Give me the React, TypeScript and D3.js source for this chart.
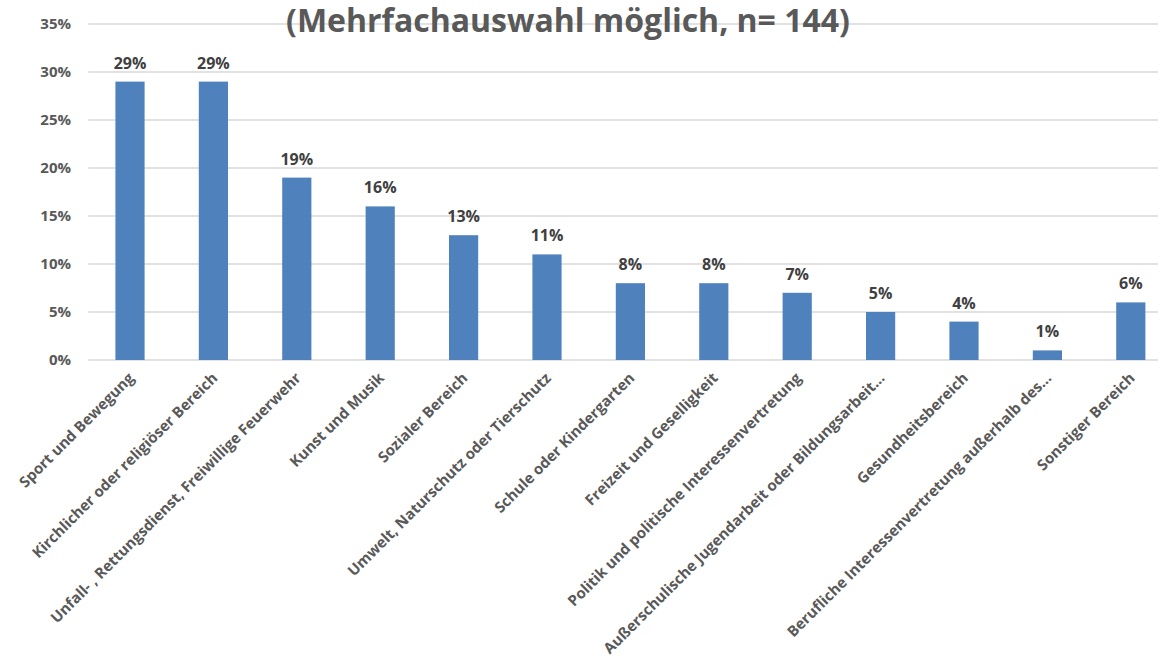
import React from "react";
import * as d3 from "d3";

const categories = [
  "Sport und Bewegung",
  "Kirchlicher oder religiöser Bereich",
  "Unfall- , Rettungsdienst, Freiwillige Feuerwehr",
  "Kunst und Musik",
  "Sozialer Bereich",
  "Umwelt, Naturschutz oder Tierschutz",
  "Schule oder Kindergarten",
  "Freizeit und Geselligkeit",
  "Politik und politische Interessenvertretung",
  "Außerschulische Jugendarbeit oder Bildungsarbeit…",
  "Gesundheitsbereich",
  "Berufliche Interessenvertretung außerhalb des…",
  "Sonstiger Bereich",
];
const values = [29, 29, 19, 16, 13, 11, 8, 8, 7, 5, 4, 1, 6];
const yTicks = [0, 5, 10, 15, 20, 25, 30, 35];
const title = "(Mehrfachauswahl möglich, n= 144)";

const W = 1158;
const H = 668;
const left = 88.3;
const bandRight = 1172.5;
const y0 = 360;
const y35 = 24;

export default function App() {
  const x = d3.scaleBand<string>().domain(categories).range([left, bandRight]).paddingInner(0.65).paddingOuter(0.325);
  const y = d3.scaleLinear().domain([0, 35]).range([y0, y35]);
  const font = "'Open Sans', 'Liberation Sans', sans-serif";
  return (
    <svg width={W} height={H} style={{ position: "absolute", left: 0, top: 0, background: "#fff" }} fontFamily={font}>
      <rect width={W} height={H} fill="#fff" />
      {yTicks.map((t) => (
        <g key={t}>
          <line x1={left} x2={W} y1={y(t)} y2={y(t)} stroke="#d9d9d9" strokeWidth={1.3} />
          <text x={71} y={y(t)} dy="0.35em" textAnchor="end" fontSize={15} fontWeight={700} fill="#595959">
            {t}%
          </text>
        </g>
      ))}
      <text x={568} y={32} textAnchor="middle" fontSize={32} fontWeight={700} fill="#595959">
        {title}
      </text>
      {categories.map((c, i) => {
        const bx = x(c)!;
        const bw = x.bandwidth();
        const cx = bx + bw / 2;
        return (
          <g key={c}>
            <rect x={bx} y={y(values[i])} width={bw} height={y0 - y(values[i])} fill="#4f81bd" />
            <text x={cx} y={y(values[i]) - 13} textAnchor="middle" fontSize={16} fontWeight={700} fill="#404040">
              {values[i]}%
            </text>
            <text
              transform={`translate(${cx + 5},${y0 + 19}) rotate(-45)`}
              textAnchor="end"
              fontSize={15}
              fontWeight={700}
              fill="#595959"
            >
              {c}
            </text>
          </g>
        );
      })}
    </svg>
  );
}
